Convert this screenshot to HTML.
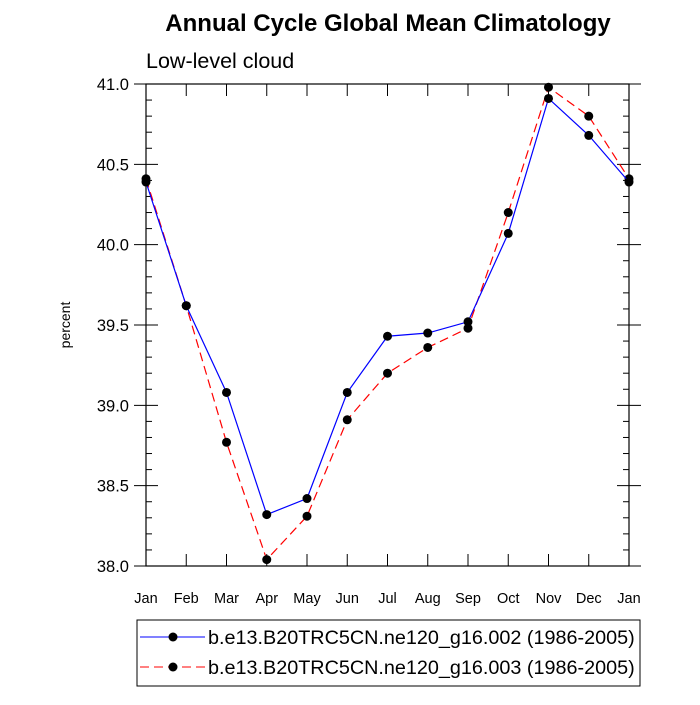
<!DOCTYPE html>
<html><head><meta charset="utf-8"><style>
body{margin:0;background:#fff;}
svg{font-family:"Liberation Sans",sans-serif;}
</style></head><body>
<svg width="700" height="700" id="c">
<text x="388" y="31" text-anchor="middle" font-size="24" font-weight="bold">Annual Cycle Global Mean Climatology</text>
<text x="146" y="68" font-size="21.5">Low-level cloud</text>
<text transform="translate(70,325) rotate(-90)" text-anchor="middle" font-size="14">percent</text>
<rect x="146" y="84" width="483" height="482" fill="none" stroke="#000" stroke-width="1.2"/>
<g id="ax"></g>
<g id="marks"></g>
<g>
<rect x="137" y="620" width="503" height="66" fill="none" stroke="#000"/>
<line x1="140" y1="637" x2="205" y2="637" stroke="#00f"/>
<circle cx="173" cy="637" r="4.5"/>
<text x="208" y="644" font-size="19.8">b.e13.B20TRC5CN.ne120_g16.002 (1986-2005)</text>
<line x1="140" y1="667" x2="205" y2="667" stroke="#f00" stroke-dasharray="9,5"/>
<circle cx="173" cy="667" r="4.5"/>
<text x="208" y="674" font-size="19.8">b.e13.B20TRC5CN.ne120_g16.003 (1986-2005)</text>
</g>
</svg>
<script>
const months=["Jan","Feb","Mar","Apr","May","Jun","Jul","Aug","Sep","Oct","Nov","Dec","Jan"];
const series002=[40.39,39.62,39.08,38.32,38.42,39.08,39.43,39.45,39.52,40.07,40.91,40.68,40.39];
const series003=[40.41,39.62,38.77,38.04,38.31,38.91,39.20,39.36,39.48,40.20,40.98,40.80,40.41];
const yTicks=["38.0","38.5","39.0","39.5","40.0","40.5","41.0"];
const NS="http://www.w3.org/2000/svg";
const x0=146,x1=629,yTop=84,yBot=566,yMin=38,yMax=41;
const X=i=>x0+(x1-x0)*i/(months.length-1);
const Y=v=>yBot-(v-yMin)/(yMax-yMin)*(yBot-yTop);
const ax=document.getElementById('ax'),mk=document.getElementById('marks');
function mkEl(t,a,p){const e=document.createElementNS(NS,t);for(const k in a)e.setAttribute(k,a[k]);p.appendChild(e);return e;}
months.forEach((m,i)=>{
 const x=X(i);
 let l=mkEl('line',{x1:x,x2:x,y1:yBot,y2:yBot-12,stroke:'#000'},ax);
 
 
 l=mkEl('line',{x1:x,x2:x,y1:yTop,y2:yTop+12,stroke:'#000'},ax);
 
 
 const t=mkEl('text',{x:x,y:603,'text-anchor':'middle','font-size':'14.5'},ax);t.textContent=m;
 
 
});
for(let k=0;k<=30;k++){
 const v=yMin+k*0.1,y=Y(v),major=k%5==0;
 [[x0,-1],[x1,1]].forEach(([xe,d])=>{
  const l=major?mkEl('line',{x1:xe-d*12,x2:xe+d*12,y1:y,y2:y,stroke:'#000'},ax):mkEl('line',{x1:xe,x2:xe-d*6,y1:y,y2:y,stroke:'#000'},ax);
  
  
 });
}
yTicks.forEach(s=>{
 const t=mkEl('text',{x:129,y:Y(parseFloat(s))+6,'text-anchor':'end','font-size':'16.5'},ax);t.textContent=s;
 
 
});
function draw(data,color,dash,name){
 const p=mkEl('polyline',{points:data.map((v,i)=>X(i)+','+Y(v)).join(' '),fill:'none',stroke:color,'stroke-width':1.2},mk);
 if(dash)p.setAttribute('stroke-dasharray',dash);
 
 
 data.forEach((v,i)=>{const c=mkEl('circle',{cx:X(i),cy:Y(v),r:4.5,fill:'#000'},mk);
  
  });
}
draw(series003,'#f00','9,5','003');
draw(series002,'#00f',null,'002');
</script>
</body></html>
